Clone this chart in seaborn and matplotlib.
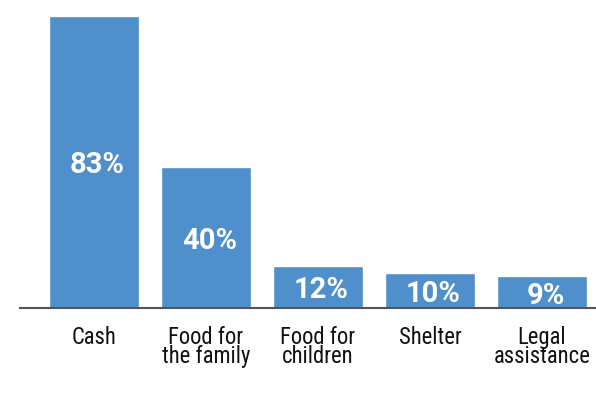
import matplotlib
matplotlib.use("Agg")
import matplotlib.pyplot as plt
import seaborn as sns
import pandas as pd

categories = ["Cash", "Food for\nthe family", "Food for\nchildren", "Shelter", "Legal\nassistance"]
values = [83, 40, 12, 10, 9]
value_labels = ["83%", "40%", "12%", "10%", "9%"]

bar_color = "#4f8fcc"

sns.set_theme(style="white")
plt.rcParams["font.family"] = ["Roboto", "DejaVu Sans"]

df = pd.DataFrame({"category": categories, "share": values})

fig = plt.figure(figsize=(5.96, 3.99), dpi=100)
ax = fig.add_axes([20 / 596, (399 - 308) / 399, 576 / 596, 308 / 399])

sns.barplot(data=df, x="category", y="share", color=bar_color, saturation=1,
            width=0.8, ax=ax)

ax.set_xlim(-0.661, 4.482)
ax.set_ylim(0, 87.55)

# percentage labels centred inside each bar
for patch, lab in zip(ax.patches, value_labels):
    cx = patch.get_x() + patch.get_width() / 2
    cy = patch.get_height() / 2
    ax.annotate(lab, (cx, cy), xytext=(2.5, -2.5), textcoords="offset points",
                ha="center", va="center", color="white",
                fontsize=21, fontweight="bold", fontstretch="normal",
                family=["Roboto", "DejaVu Sans"])

ax.set_xlabel("")
ax.set_ylabel("")
ax.set_yticks([])
ax.tick_params(axis="x", length=0, pad=13)
for t in ax.get_xticklabels():
    t.set_family(["Roboto Condensed", "DejaVu Sans"])
    t.set_fontsize(16.3)
    t.set_color("#111111")
    t.set_linespacing(0.78)
    t.set_va("top")

for s in ["top", "right", "left"]:
    ax.spines[s].set_visible(False)
ax.spines["bottom"].set_color("#555555")
ax.spines["bottom"].set_linewidth(1.5)

fig.savefig("out.png", dpi=100)
